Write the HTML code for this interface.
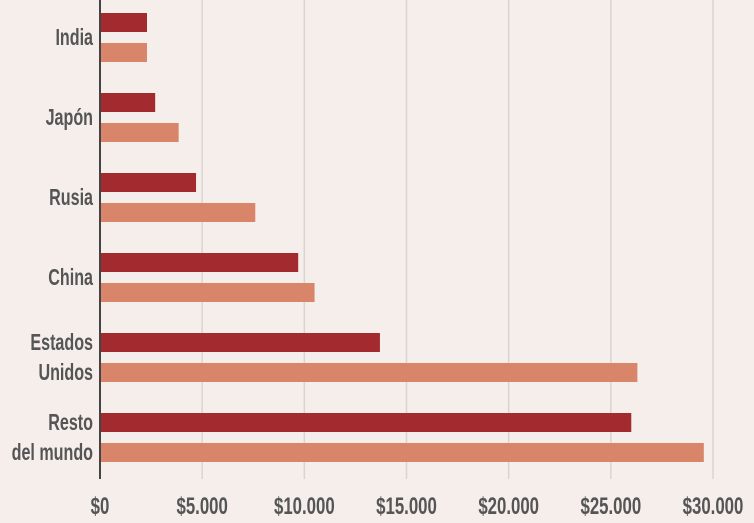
<!DOCTYPE html>
<html><head><meta charset="utf-8">
<style>
html,body{margin:0;padding:0;background:#f5eeeb;}
svg{display:block;}
text{font-family:"Liberation Sans",sans-serif;font-weight:bold;fill:#555;}
</style></head>
<body>
<svg id="chart" width="754" height="523" viewBox="0 0 754 523" xmlns="http://www.w3.org/2000/svg">
<rect width="754" height="523" fill="#f5eeeb"/>
<g id="grid"></g><g id="bars"></g><g id="labels"></g><g id="ticks"></g>
<line x1="100" y1="0" x2="100" y2="479" stroke="#444" stroke-width="2"/>
</svg>
<script>
const categories = [["India"],["Japón"],["Rusia"],["China"],["Estados","Unidos"],["Resto","del mundo"]];
const seriesDark = [2300, 2700, 4700, 9700, 13700, 26000];
const seriesLight = [2300, 3850, 7600, 10500, 26300, 29550];
const tickValues = [0, 5000, 10000, 15000, 20000, 25000, 30000];
const tickLabels = ["$0","$5.000","$10.000","$15.000","$20.000","$25.000","$30.000"];

const NS="http://www.w3.org/2000/svg";
const x = v => 100 + v * 613 / 30000;
const groupTop = i => 13 + i * 80;
function mk(tag, attrs, parent){const e=document.createElementNS(NS,tag);for(const k in attrs)e.setAttribute(k,attrs[k]);(typeof parent==="string"?document.getElementById(parent):parent).appendChild(e);return e;}

tickValues.forEach((t,i)=>{
  if(i>0){
    const g=mk("line",{x1:x(t),x2:x(t),y1:0,y2:479,stroke:"#d9d4d2","stroke-width":1.5},"grid");
    
    
  }
  const grp=mk("g",{transform:`translate(${x(t)},514) scale(0.7,1)`},"ticks");
  const tx=mk("text",{x:0,y:0,"text-anchor":"middle","font-size":24},grp);
  tx.textContent=tickLabels[i];
  
  
});

categories.forEach((c,i)=>{
  const top=groupTop(i);
  const b1=mk("rect",{x:101,y:top,width:x(seriesDark[i])-101,height:19,fill:"#a32a2f"},"bars");
  
  
  const b2=mk("rect",{x:101,y:top+30,width:x(seriesLight[i])-101,height:19,fill:"#d9856a"},"bars");
  
  
  const cy=top+24;
  c.forEach((line,j)=>{
    const y = c.length===1 ? cy+8 : cy - 15 + j*30 + 8;
    const grp=mk("g",{transform:`translate(93,${y}) scale(0.7,1)`},"labels");
    const t=mk("text",{x:0,y:0,"text-anchor":"end","font-size":23},grp);
    t.textContent=line;
    
    
  });
});
</script>
</body></html>
